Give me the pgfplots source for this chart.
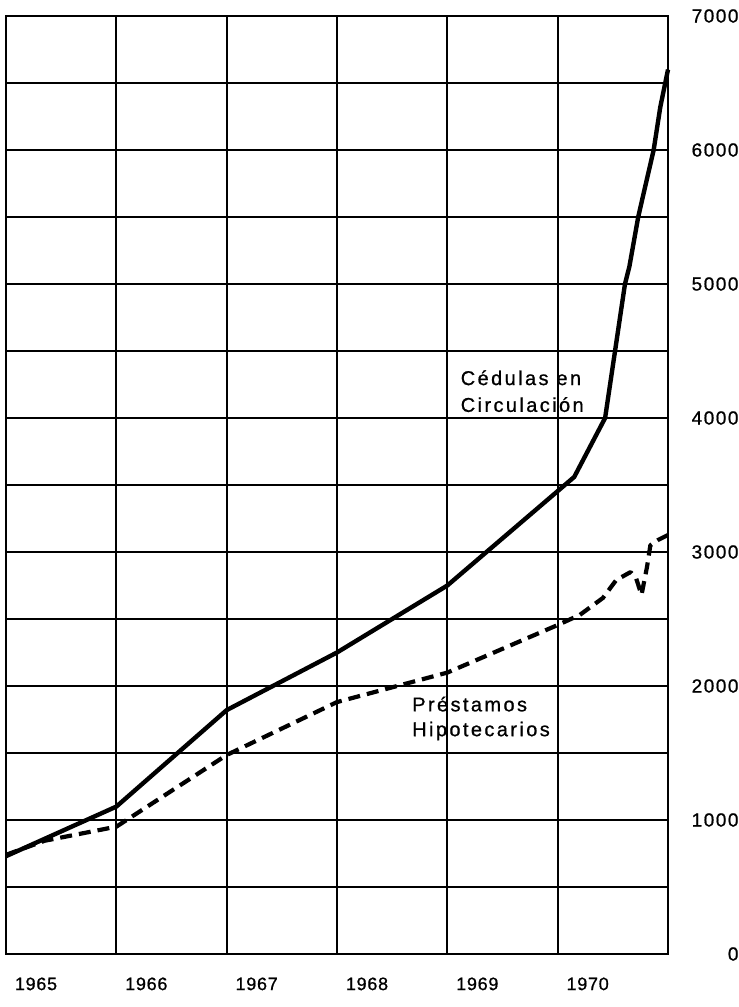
\documentclass[border=0pt]{standalone}
\usepackage{fontspec}
\setmainfont{Liberation Sans}
\newfontfamily\labfont[LetterSpace=12,FakeBold=0.8]{Liberation Sans}
\newfontfamily\tickfont[LetterSpace=8,FakeBold=0.8]{Liberation Sans}
\newfontfamily\yearfont[LetterSpace=4,FakeBold=0.8]{Liberation Sans}
\usepackage{pgfplots}
\pgfplotsset{compat=1.18}
\begin{document}
\begin{tikzpicture}
\begin{axis}[
  at={(0,0)}, anchor=south west,
  scale only axis, width=662pt, height=938pt,
  xmin=0, xmax=6, ymin=0, ymax=7000,
  axis line style={line width=1.8pt},
  xtick={0,1,2,3,4,5},
  xticklabels={1965,1966,1967,1968,1969,1970},
  xticklabel style={anchor=north, xshift=30pt, yshift=-20pt, font=\yearfont\fontsize{18pt}{21pt}\selectfont},
  major tick length=0pt, minor tick length=0pt,
  ytick={0,1000,...,7000},
  minor ytick={500,1500,...,6500},
  yticklabel pos=right,
  yticklabel style={anchor=east, xshift=74pt, font=\tickfont\fontsize{19pt}{22pt}\selectfont},
  /pgf/number format/assume math mode=true,
  /pgf/number format/1000 sep={},
  scaled y ticks=false,
  grid=both,
  major grid style={black, line width=1.7pt},
  minor grid style={black, line width=1.7pt},
  clip=false,
]
\addplot[black, line width=4.4pt, line join=round] coordinates {
(0,730) (1,1100) (2,1820) (3,2250) (4,2750) (5.15,3560) (5.43,4000)
(5.52,4500) (5.61,5000) (5.65,5130) (5.73,5500) (5.78,5680) (5.87,6000)
(5.93,6320) (6.0,6600)
};
\addplot[black, line width=4.2pt, dash pattern=on 12pt off 7pt, line join=round] coordinates {
(0,740) (0.35,845) (1,950) (2,1485) (3,1880) (4,2100) (5,2455) (5.2,2530)
(5.41,2657) (5.53,2790) (5.66,2850) (5.71,2806) (5.76,2680) (5.81,2890)
(5.84,3050) (5.91,3090) (6.0,3127)
};
\node[anchor=west, inner sep=0pt, font=\labfont\fontsize{20pt}{23pt}\selectfont] at (axis cs:4.12,4300) {Cédulas en};
\node[anchor=west, inner sep=0pt, font=\labfont\fontsize{20pt}{23pt}\selectfont] at (axis cs:4.12,4100) {Circulación};
\node[anchor=west, inner sep=0pt, font=\labfont\fontsize{20pt}{23pt}\selectfont] at (axis cs:3.68,1865) {Préstamos};
\node[anchor=west, inner sep=0pt, font=\labfont\fontsize{20pt}{23pt}\selectfont] at (axis cs:3.68,1664) {Hipotecarios};
\end{axis}
\pgfresetboundingbox
\useasboundingbox (-6pt,-53pt) rectangle (733pt,954pt);
\end{tikzpicture}
\end{document}
